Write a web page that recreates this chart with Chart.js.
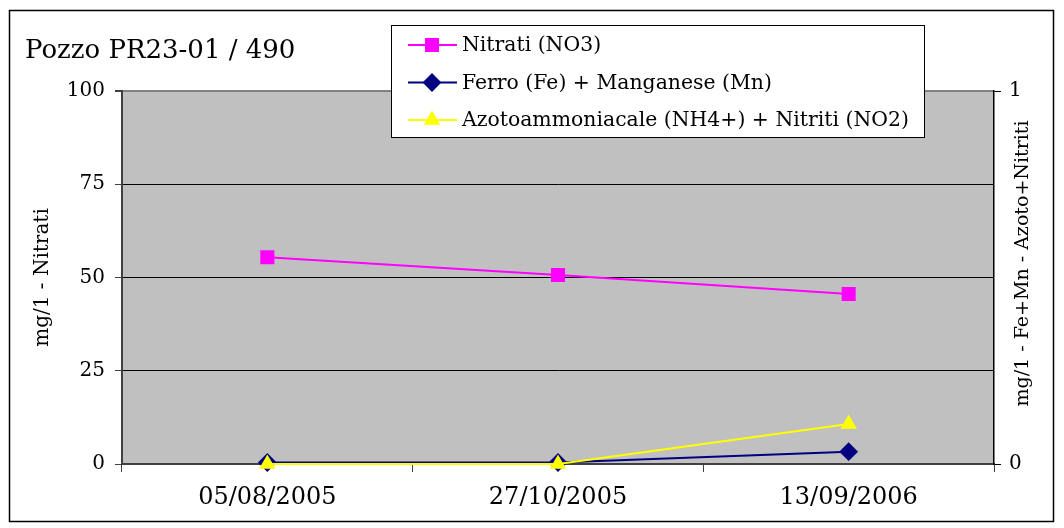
<!DOCTYPE html>
<html>
<head>
<meta charset="utf-8">
<script src="https://cdn.jsdelivr.net/npm/chart.js@4.4.0/dist/chart.umd.min.js"></script>
<style>
  html, body { margin: 0; padding: 0; background: #ffffff; }
  #wrap { width: 1064px; height: 528px; }
</style>
</head>
<body>
<div id="wrap"><canvas id="pozzoChart" width="1064" height="528"></canvas></div>
<script>
var chartTitle = 'Pozzo PR23-01 / 490';
var dates = ['05/08/2005', '27/10/2005', '13/09/2006'];
var nitrati = [55.4, 50.7, 45.6];
var ferroManganese = [0.004, 0.004, 0.033];
var azotoNitriti = [0, 0, 0.107];
var leftTicks = [0, 25, 50, 75, 100];
var rightTicks = [0, 1];
var leftAxisTitle = 'mg/1 - Nitrati';
var rightAxisTitle = 'mg/1 - Fe+Mn - Azoto+Nitriti';

var FONT = "'DejaVu Serif', serif";

// gray plot area, outer frame, chart title and right axis title
var backgroundPlugin = {
    id: 'plotBackground',
    beforeDraw: function (chart) {
        var ctx = chart.ctx;
        var a = chart.chartArea;
        ctx.save();
        ctx.fillStyle = '#ffffff';
        ctx.fillRect(0, 0, chart.width, chart.height);
        ctx.fillStyle = '#c0c0c0';
        ctx.fillRect(a.left, a.top, a.right - a.left, a.bottom - a.top);
        ctx.strokeStyle = '#000000';
        ctx.lineWidth = 1.5;
        ctx.strokeRect(9.5, 10.5, 1044, 511);
        ctx.restore();
    },
    afterDraw: function (chart) {
        var ctx = chart.ctx;
        var a = chart.chartArea;
        ctx.save();
        ctx.fillStyle = '#000000';
        ctx.font = '26px ' + FONT;
        ctx.textBaseline = 'alphabetic';
        ctx.fillText(chartTitle, 25, 58);
        // right title reads bottom to top, as in the original
        ctx.translate(1023, (a.top + a.bottom) / 2 - 14);
        ctx.rotate(-Math.PI / 2);
        ctx.font = '19px ' + FONT;
        ctx.textAlign = 'center';
        ctx.textBaseline = 'middle';
        ctx.fillText(rightAxisTitle, 0, 0);
        ctx.restore();
    }
};

// legend box overlapping the plot
var legendBoxPlugin = {
    id: 'legendBox',
    afterDraw: function (chart) {
        var ctx = chart.ctx;
        var box = { x: 391.5, y: 25.5, w: 533, h: 112 };
        var rows = [45, 82.5, 120];
        ctx.save();
        ctx.fillStyle = '#ffffff';
        ctx.fillRect(box.x, box.y, box.w, box.h);
        ctx.strokeStyle = '#000000';
        ctx.lineWidth = 1;
        ctx.strokeRect(box.x, box.y, box.w, box.h);
        chart.data.datasets.forEach(function (ds, i) {
            var y = rows[i];
            ctx.strokeStyle = ds.borderColor;
            ctx.lineWidth = 2;
            ctx.beginPath();
            ctx.moveTo(408, y);
            ctx.lineTo(457, y);
            ctx.stroke();
            Chart.helpers.drawPoint(ctx, {
                pointStyle: ds.pointStyle,
                radius: ds.pointRadius,
                borderWidth: 1,
                rotation: 0
            }, 432, y);
            ctx.fillStyle = ds.pointBackgroundColor;
            ctx.strokeStyle = ds.pointBorderColor;
            ctx.fill();
            ctx.fillStyle = '#000000';
            ctx.font = '20.4px ' + FONT;
            ctx.textBaseline = 'middle';
            ctx.fillText(ds.label, 462, y + 1);
        });
        ctx.restore();
    }
};

var ctx = document.getElementById('pozzoChart').getContext('2d');
var chart = new Chart(ctx, {
    type: 'line',
    data: {
        labels: dates,
        datasets: [
            {
                label: 'Nitrati (NO3)',
                data: nitrati,
                yAxisID: 'y',
                borderColor: '#ff00ff',
                backgroundColor: '#ff00ff',
                pointBackgroundColor: '#ff00ff',
                pointBorderColor: '#ff00ff',
                pointStyle: 'rect',
                pointRadius: 8.5,
                borderWidth: 2,
                order: 3
            },
            {
                label: 'Ferro (Fe) + Manganese (Mn)',
                data: ferroManganese,
                yAxisID: 'y1',
                borderColor: '#000080',
                backgroundColor: '#000080',
                pointBackgroundColor: '#000080',
                pointBorderColor: '#000080',
                pointStyle: 'rectRot',
                pointRadius: 8,
                borderWidth: 2,
                order: 2
            },
            {
                label: 'Azotoammoniacale (NH4+) + Nitriti (NO2)',
                data: azotoNitriti,
                yAxisID: 'y1',
                borderColor: '#ffff00',
                backgroundColor: '#ffff00',
                pointBackgroundColor: '#ffff00',
                pointBorderColor: '#ffff00',
                pointStyle: 'triangle',
                pointRadius: 7.5,
                borderWidth: 2,
                order: 1
            }
        ]
    },
    options: {
        responsive: false,
        animation: false,
        clip: false,
        layout: { padding: { left: 10, right: 10, top: 91, bottom: 6 } },
        plugins: {
            legend: { display: false },
            tooltip: { enabled: false },
            title: { display: false }
        },
        scales: {
            x: {
                offset: true,
                afterFit: function (scale) { scale.height = 58; },
                grid: {
                    offset: true,
                    drawOnChartArea: false,
                    color: '#404040',
                    tickLength: 8
                },
                border: { color: '#404040', width: 2 },
                ticks: { color: '#000000', padding: 11, font: { family: FONT, size: 24 }, maxRotation: 0 }
            },
            y: {
                position: 'left',
                min: 0,
                max: 100,
                afterFit: function (scale) { scale.width = 112; },
                afterBuildTicks: function (scale) {
                    scale.ticks = leftTicks.map(function (v) { return { value: v }; });
                },
                grid: {
                    color: function (c) { return c.tick && c.tick.value === 100 ? '#808080' : '#000000'; },
                    lineWidth: function (c) { return c.tick && c.tick.value === 100 ? 2 : 1; },
                    tickColor: '#404040',
                    tickLength: 7
                },
                border: { color: '#404040', width: 2 },
                ticks: { color: '#000000', padding: 10, font: { family: FONT, size: 20 } },
                title: {
                    display: true,
                    text: leftAxisTitle,
                    color: '#000000',
                    font: { family: FONT, size: 20 },
                    padding: { top: 21, bottom: 0 }
                }
            },
            y1: {
                position: 'right',
                min: 0,
                max: 1,
                afterFit: function (scale) { scale.width = 60; },
                afterBuildTicks: function (scale) {
                    scale.ticks = rightTicks.map(function (v) { return { value: v }; });
                },
                grid: { drawOnChartArea: false, color: '#000000', tickLength: 7 },
                border: { color: '#000000', width: 1.5 },
                ticks: { color: '#000000', padding: 8, font: { family: FONT, size: 20 } }
            }
        }
    },
    plugins: [backgroundPlugin, legendBoxPlugin]
});
</script>
</body>
</html>
